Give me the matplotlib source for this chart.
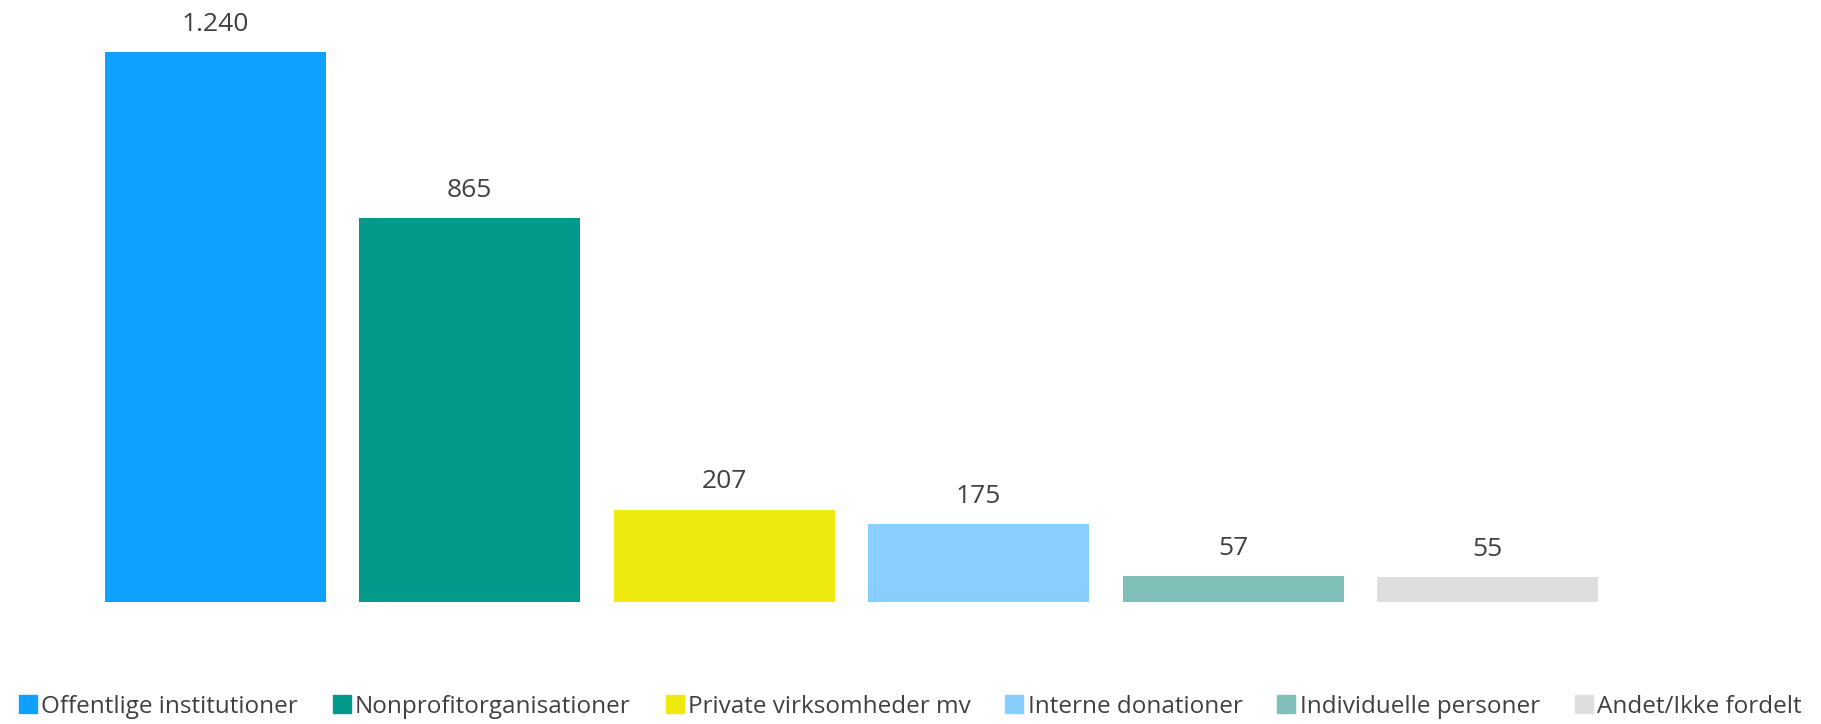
import matplotlib.pyplot as plt
from matplotlib.lines import Line2D

categories = ['Offentlige institutioner', 'Nonprofitorganisationer', 'Private virksomheder mv',
              'Interne donationer', 'Individuelle personer', 'Andet/Ikke fordelt']
values = [1240, 865, 207, 175, 57, 55]
labels = ['1.240', '865', '207', '175', '57', '55']
colors = ['#10A0FF', '#039A8C', '#EEEA10', '#88CFFF', '#80C0B9', '#DEDEDE']

plt.rcParams['font.family'] = ['Open Sans', 'DejaVu Sans']
txt = '#404040'

fig = plt.figure(figsize=(18.21, 7.24), dpi=100)
ax = fig.add_axes([88 / 1821, (724 - 601.6) / 724, (1615 - 88) / 1821, 601.6 / 724])

x = range(len(values))
bars = ax.bar(x, values, width=0.87, color=colors)
for b, lab in zip(bars, labels):
    ax.text(b.get_x() + b.get_width() / 2, b.get_height() + 63, lab,
            ha='center', va='center', fontsize=19, color=txt)

ax.set_xlim(-0.5, len(values) - 0.5)
ax.set_ylim(0, 1358)
ax.axis('off')

handles = [Line2D([], [], marker='s', linestyle='none', markersize=13,
                  markerfacecolor=c, markeredgecolor=c) for c in colors]
fig.legend(handles, categories, loc='center', bbox_to_anchor=(0.5, 1 - 707 / 724),
           ncol=6, frameon=False, fontsize=17.5, labelcolor=txt,
           handletextpad=0.2, columnspacing=1.45, handlelength=0.7)

fig.savefig('out.png', dpi=100)
